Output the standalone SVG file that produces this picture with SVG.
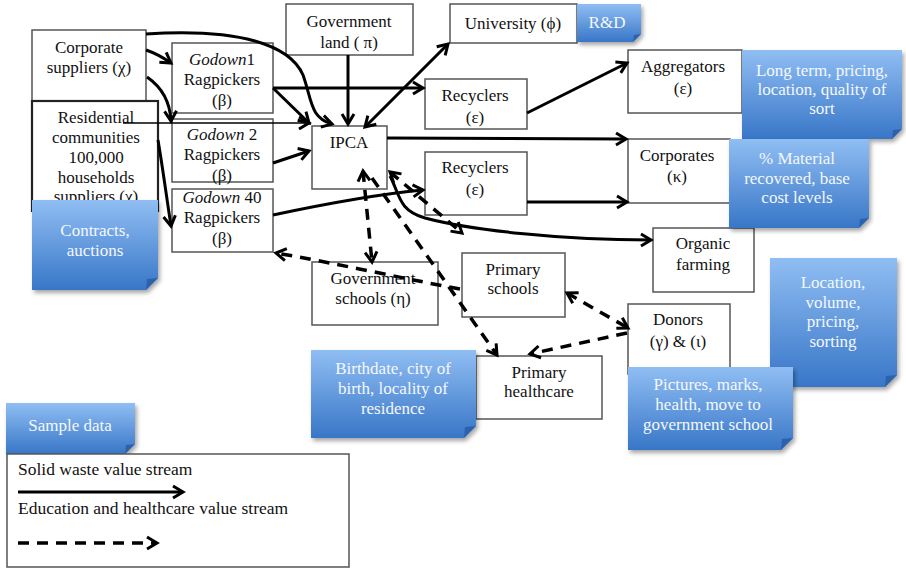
<svg xmlns="http://www.w3.org/2000/svg" width="906" height="568" viewBox="0 0 906 568">
<defs>
<style>
.box{fill:#fff;stroke:#555;stroke-width:1.5}
.t{font-family:"Liberation Serif","DejaVu Serif",serif;font-size:17px;fill:#111;text-anchor:middle}
.nt{font-family:"Liberation Serif","DejaVu Serif",serif;font-size:17px;fill:#f4f8ff;text-anchor:middle}
.lt{font-family:"Liberation Serif","DejaVu Serif",serif;font-size:17.5px;fill:#111}
.note{fill:url(#blue);filter:url(#sh)}
.fold{fill:#2c62ad}
.s{fill:none;stroke:#000;stroke-width:3;marker-end:url(#ah)}
.thin{fill:none;stroke:#000;stroke-width:1.6;marker-end:url(#ah)}
.d{fill:none;stroke:#000;stroke-width:3.5;stroke-dasharray:11 8;marker-end:url(#ah)}
.both{marker-start:url(#ah)}
</style>
<linearGradient id="blue" x1="0" y1="0" x2="0" y2="1">
<stop offset="0" stop-color="#90bef3"/>
<stop offset="1" stop-color="#3876c7"/>
</linearGradient>
<filter id="sh" x="-10%" y="-10%" width="125%" height="130%">
<feDropShadow dx="2" dy="3" stdDeviation="2" flood-color="#000" flood-opacity="0.35"/>
</filter>
<marker id="ah" markerUnits="userSpaceOnUse" markerWidth="16" markerHeight="16" refX="13" refY="8" orient="auto-start-reverse">
<path d="M3,2 L13,8 L3,14" fill="none" stroke="#000" stroke-width="3"/>
</marker>
</defs>
<rect width="906" height="568" fill="#fff"/>

<g id="corporate-suppliers"><rect class="box" x="32" y="30" width="114" height="71"/><text class="t" x="89" y="53">Corporate</text><text class="t" x="89" y="73">suppliers (χ)</text></g>
<g id="residential"><rect class="box" x="32" y="101" width="126" height="110" style="stroke:#222;stroke-width:2.2"/><text class="t" x="96" y="123">Residential</text><text class="t" x="96" y="143">communities</text><text class="t" x="96" y="163">100,000</text><text class="t" x="96" y="183">households</text><text class="t" x="96" y="202">suppliers (χ)</text></g>
<g id="godown1"><rect class="box" x="172" y="43" width="101" height="70"/><text class="t" x="222" y="65"><tspan font-style="italic">Godown</tspan>1</text><text class="t" x="222" y="85">Ragpickers</text><text class="t" x="222" y="106">(β)</text></g>
<g id="godown2"><rect class="box" x="172" y="119" width="101" height="63"/><text class="t" x="222" y="140"><tspan font-style="italic">Godown</tspan> 2</text><text class="t" x="222" y="160">Ragpickers</text><text class="t" x="222" y="181">(β)</text></g>
<g id="godown40"><rect class="box" x="172" y="189" width="101" height="63"/><text class="t" x="222" y="203"><tspan font-style="italic">Godown</tspan> 40</text><text class="t" x="222" y="223">Ragpickers</text><text class="t" x="222" y="244">(β)</text></g>
<g id="government-land"><rect class="box" x="286" y="4" width="127" height="51"/><text class="t" x="349" y="27">Government</text><text class="t" x="349" y="48">land ( π)</text></g>
<g id="university"><rect class="box" x="450" y="4" width="127" height="39"/><text class="t" x="513" y="29">University (ϕ)</text></g>
<g id="ipca"><rect class="box" x="312" y="126" width="75" height="63"/><text class="t" x="349" y="148">IPCA</text></g>
<g id="recyclers1"><rect class="box" x="425" y="79" width="102" height="50"/><text class="t" x="475" y="101">Recyclers</text><text class="t" x="475" y="123">(ε)</text></g>
<g id="recyclers2"><rect class="box" x="425" y="152" width="102" height="63"/><text class="t" x="475" y="173">Recyclers</text><text class="t" x="475" y="195">(ε)</text></g>
<g id="aggregators"><rect class="box" x="628" y="50" width="114" height="63"/><text class="t" x="683" y="72">Aggregators</text><text class="t" x="683" y="94">(ε)</text></g>
<g id="corporates"><rect class="box" x="628" y="139" width="102" height="64"/><text class="t" x="677" y="161">Corporates</text><text class="t" x="677" y="182">(κ)</text></g>
<g id="organic-farming"><rect class="box" x="653" y="228" width="101" height="64"/><text class="t" x="703" y="249">Organic</text><text class="t" x="703" y="270">farming</text></g>
<g id="government-schools"><rect class="box" x="312" y="262" width="126" height="63"/><text class="t" x="373" y="284">Government</text><text class="t" x="373" y="304">schools (η)</text></g>
<g id="primary-schools"><rect class="box" x="462" y="253" width="103" height="64"/><text class="t" x="513" y="275">Primary</text><text class="t" x="513" y="294">schools</text></g>
<g id="donors"><rect class="box" x="628" y="304" width="102" height="70"/><text class="t" x="678" y="325">Donors</text><text class="t" x="678" y="347">(γ) &amp; (ι)</text></g>
<g id="primary-healthcare"><rect class="box" x="476" y="356" width="126" height="63"/><text class="t" x="539" y="378">Primary</text><text class="t" x="539" y="397">healthcare</text></g>

<g id="connectors">
<path class="s" d="M146,50 Q158,54 171,63"/>
<path class="s" d="M147,77 C160,86 170,100 171,121"/>
<path class="s" d="M158,140 C163,170 167,200 171,226"/>
<path class="s" d="M146,34 C240,28 290,45 303,75 C312,100 310,118 332,124"/>
<path class="s" d="M273,88 L423,88"/>
<path class="s" d="M273,88 L309,123"/>
<path class="thin" d="M123,123 L309,123"/>
<path class="s" d="M273,163 L309,151"/>
<path class="s" d="M273,215 C320,205 380,194 423,190"/>
<path class="s" d="M348,55 L348,124"/>
<path class="s both" d="M365,127 L448,44"/>
<path class="s" d="M387,138 L626,139"/>
<path class="s" d="M527,113 L627,63"/>
<path class="s" d="M527,202 L627,202"/>
<path class="s" d="M390,176 C400,195 398,210 425,218 C470,230 560,240 651,240"/>
<path class="d both" d="M363,171 L372,262"/>
<path class="d" d="M372,178 L497,355"/>
<path class="d both" d="M390,172 L462,233"/>
<path class="d" d="M460,289 C420,282 330,262 276,253"/>
<path class="d both" d="M567,293 L628,328"/>
<path class="d" d="M627,333 L530,354"/>
</g>

<g id="note-rd"><path class="note" d="M577,4 h64 v30 l-8,8 h-56 z"/><path class="fold" d="M641,34 L633,42 L634,35 z"/><text class="nt" x="607" y="28">R&amp;D</text></g>
<g id="note-longterm"><path class="note" d="M742,50 h160 v79 l-10,10 h-150 z"/><path class="fold" d="M902,129 L892,139 L893,130 z"/><text class="nt" x="822" y="76">Long term, pricing,</text><text class="nt" x="822" y="95">location, quality of</text><text class="nt" x="822" y="114">sort</text></g>
<g id="note-material"><path class="note" d="M729,139 h140 v79 l-10,10 h-130 z"/><path class="fold" d="M869,218 L859,228 L860,219 z"/><text class="nt" x="797" y="164">% Material</text><text class="nt" x="797" y="184">recovered, base</text><text class="nt" x="797" y="203">cost levels</text></g>
<g id="note-contracts"><path class="note" d="M32,200 h126 v78 l-12,12 h-114 z"/><path class="fold" d="M158,278 L146,290 L147,279 z"/><text class="nt" x="95" y="236">Contracts,</text><text class="nt" x="95" y="256">auctions</text></g>
<g id="note-birthdate"><path class="note" d="M311,350 h165 v76 l-12,12 h-153 z"/><path class="fold" d="M476,426 L464,438 L465,427 z"/><text class="nt" x="393" y="374">Birthdate,  city of</text><text class="nt" x="393" y="394">birth, locality of</text><text class="nt" x="393" y="414">residence</text></g>
<g id="note-location"><path class="note" d="M770,258 h127 v117 l-12,12 h-115 z"/><path class="fold" d="M897,375 L885,387 L886,376 z"/><text class="nt" x="833" y="288">Location,</text><text class="nt" x="833" y="308">volume,</text><text class="nt" x="833" y="327">pricing,</text><text class="nt" x="833" y="347">sorting</text></g>
<g id="note-pictures"><path class="note" d="M628,367 h165 v71 l-12,12 h-153 z"/><path class="fold" d="M793,438 L781,450 L782,439 z"/><text class="nt" x="708" y="390">Pictures, marks,</text><text class="nt" x="708" y="410">health, move to</text><text class="nt" x="708" y="430">government school</text></g>
<g id="note-sample"><path class="note" d="M6,403 h129 v41 l-10,10 h-119 z"/><path class="fold" d="M135,444 L125,454 L126,445 z"/><text class="nt" x="70" y="431">Sample data</text></g>

<g id="legend">
<rect class="box" x="7" y="454" width="342" height="113"/>
<text class="lt" x="18" y="475">Solid waste value stream</text>
<path class="s" d="M18,492 L183,492"/>
<text class="lt" x="18" y="514">Education and healthcare value stream</text>
<path class="d" d="M18,543 L157,543"/>
</g>
</svg>
